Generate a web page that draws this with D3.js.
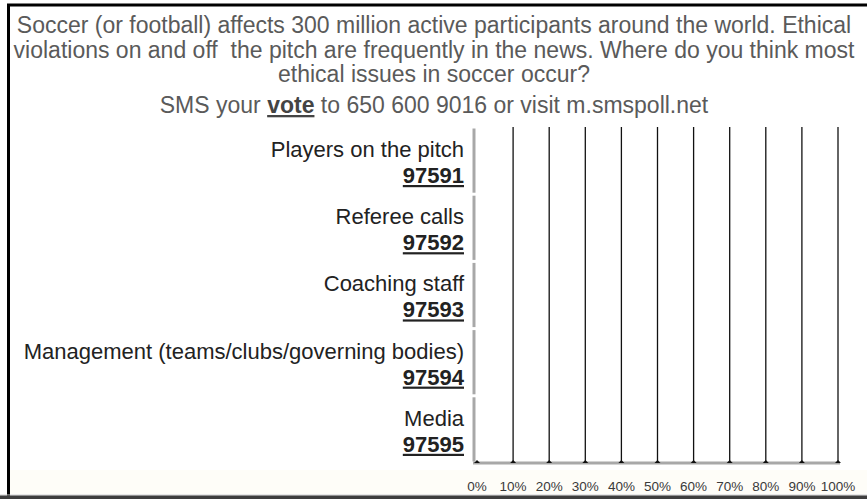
<!DOCTYPE html>
<html>
<head>
<meta charset="utf-8">
<script src="https://cdn.jsdelivr.net/npm/d3@7"></script>
<style>
  body { margin: 0; background: #fff; }
  svg { display: block; font-family: "Liberation Sans", Arial, sans-serif; }
  text { white-space: pre; }
</style>
</head>
<body>
<div id="chart"></div>
<script>
/* sondage sms: où se passent les problèmes d'éthique dans le foot */

const titre = [
    "Soccer (or football) affects 300 million active participants around the world. Ethical",
    "violations on and off  the pitch are frequently in the news. Where do you think most",
    "ethical issues in soccer occur?"
]
const categories = [
    "Players on the pitch",
    "Referee calls",
    "Coaching staff",
    "Management (teams/clubs/governing bodies)",
    "Media"
]
const codes = ["97591", "97592", "97593", "97594", "97595"]
// aucun vote pour l'instant
const valeurs = [0, 0, 0, 0, 0]
const ticks = [0, 10, 20, 30, 40, 50, 60, 70, 80, 90, 100]

const width = 867, height = 499

const svg = d3.select("#chart").append("svg")
    .attr("width", width)
    .attr("height", height)

/* cadre: trait noir en haut et à gauche, bande grise en bas */
svg.append("rect").attr("x", 0).attr("y", 0).attr("width", width).attr("height", height).attr("fill", "#fff")
svg.append("rect").attr("x", 10).attr("y", 470).attr("width", width).attr("height", 24).attr("fill", "#fefdf8")
svg.append("line").attr("x1", 7).attr("x2", width).attr("y1", 5).attr("y2", 5)
    .attr("stroke", "#000").attr("stroke-width", 3)
svg.append("line").attr("x1", 8.5).attr("x2", 8.5).attr("y1", 4).attr("y2", 496)
    .attr("stroke", "#000").attr("stroke-width", 3)
svg.append("rect").attr("x", 0).attr("y", 494.5).attr("width", width).attr("height", 1).attr("fill", "#cfcfcf")
svg.append("rect").attr("x", 0).attr("y", 495.5).attr("width", width).attr("height", 4).attr("fill", "#3e3e3e")

/* titre */
const cx = 434
svg.append("g")
    .selectAll("text")
    .data(titre)
    .join("text")
    .attr("x", cx)
    .attr("y", (d, i) => 33 + i * 24.5)
    .attr("text-anchor", "middle")
    .attr("font-size", 23)
    .attr("fill", "#5a5a5a")
    .text(d => d)

const sms = svg.append("text")
    .attr("x", cx)
    .attr("y", 113)
    .attr("text-anchor", "middle")
    .attr("font-size", 23)
    .attr("fill", "#5a5a5a")
sms.append("tspan").text("SMS your ")
sms.append("tspan").attr("font-weight", "bold").attr("text-decoration", "underline").attr("fill", "#444").text("vote")
sms.append("tspan").text(" to 650 600 9016 or visit m.smspoll.net")

/* échelles */
const x = d3.scaleLinear().domain([0, 100]).range([477, 838])
const y = d3.scaleBand().domain(categories).range([127, 463])

/* grille verticale */
svg.append("g")
    .selectAll("line")
    .data(ticks.filter(t => t > 0))
    .join("line")
    .attr("x1", d => x(d)).attr("x2", d => x(d))
    .attr("y1", 127).attr("y2", 463)
    .attr("stroke", "#111")
    .attr("stroke-width", 1.3)

/* axe horizontal gris */
svg.append("line")
    .attr("x1", 473).attr("x2", x(100) + 2)
    .attr("y1", 463).attr("y2", 463)
    .attr("stroke", "#a8a8a8").attr("stroke-width", 3)

/* petits triangles sur l'axe */
svg.append("g")
    .selectAll("path")
    .data(ticks)
    .join("path")
    .attr("d", d => `M${x(d) - 3},${463}L${x(d)},${460}L${x(d) + 3},${463}Z`)
    .attr("fill", "#111")

/* labels des ticks */
svg.append("g")
    .selectAll("text")
    .data(ticks)
    .join("text")
    .attr("x", d => x(d))
    .attr("y", 491)
    .attr("text-anchor", "middle")
    .attr("font-size", 13.5)
    .attr("fill", "#3a3a3a")
    .text(d => d + "%")

/* axe vertical: un segment gris par catégorie */
svg.append("g")
    .selectAll("line")
    .data(categories)
    .join("line")
    .attr("x1", 474).attr("x2", 474)
    .attr("y1", d => y(d) + 1.5)
    .attr("y2", d => y(d) + y.bandwidth() - 1.5)
    .attr("stroke", "#a8a8a8")
    .attr("stroke-width", 3)

/* barres (vides) */
svg.append("g")
    .selectAll("rect")
    .data(valeurs)
    .join("rect")
    .attr("x", x(0))
    .attr("y", (d, i) => y(categories[i]) + 10)
    .attr("width", d => x(d) - x(0))
    .attr("height", y.bandwidth() - 20)
    .attr("fill", "#4a7ebb")

/* libellés des catégories + code sms */
const lab = svg.append("g")
    .selectAll("g")
    .data(categories)
    .join("g")
    .attr("transform", d => `translate(464,${y(d)})`)
lab.append("text")
    .attr("y", 30)
    .attr("text-anchor", "end")
    .attr("font-size", 22)
    .attr("fill", "#222")
    .text(d => d)
lab.append("text")
    .attr("y", 56)
    .attr("text-anchor", "end")
    .attr("font-size", 22)
    .attr("font-weight", "bold")
    .attr("text-decoration", "underline")
    .attr("fill", "#222")
    .text((d, i) => codes[i])
</script>
</body>
</html>
